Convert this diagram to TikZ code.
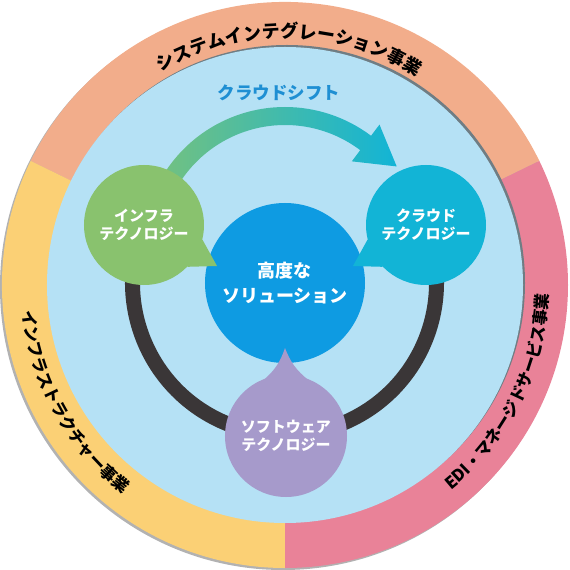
\documentclass[tikz,border=0pt]{standalone}
\usepackage{fontspec}
\newfontfamily\jpfont{Noto Sans CJK JP}
\usetikzlibrary{decorations.text}

\definecolor{seg_orange}{HTML}{F2AD8B}
\definecolor{seg_yellow}{HTML}{FBD075}
\definecolor{seg_pink}{HTML}{E98298}
\definecolor{inner_blue}{HTML}{B5E1F5}
\definecolor{core_blue}{HTML}{0E9BE2}
\definecolor{infra_green}{HTML}{89C26E}
\definecolor{cloud_cyan}{HTML}{12B4D6}
\definecolor{soft_purple}{HTML}{A69ACB}
\definecolor{ring_dark}{HTML}{3A3637}
\definecolor{label_blue}{HTML}{1E8FD3}
\definecolor{shift_green}{HTML}{72C181}
\definecolor{edge_gray}{HTML}{6F7D84}

\newcommand{\ringfont}{\jpfont\bfseries\fontsize{18}{18}\selectfont}
\newcommand{\sidefont}{\jpfont\bfseries\fontsize{16.5}{16.5}\selectfont}

\begin{document}
\begin{tikzpicture}[x=1pt, y=1pt,
        bubble/.style={circle, inner sep=0pt, minimum size=120pt, text=white, align=center, font=\jpfont\bfseries\fontsize{15}{18}\selectfont},
        core/.style={circle, inner sep=0pt, minimum size=160pt, fill=core_blue, text=white, align=center, font=\jpfont\bfseries\fontsize{18}{25}\selectfont},
        shift_label/.style={text=label_blue, font=\jpfont\bfseries\fontsize{17.5}{17.5}\selectfont},
        ring_link/.style={draw=ring_dark, line width=15pt},
        ring_label/.style={decorate, decoration={text along path, text align=center, text={#1}}}
    ]
    \useasboundingbox (-285,-285) rectangle (285,285);

    % Anello esterno
    \fill[gray!60] (-2,-2) circle[radius=283pt];
    \fill[seg_orange] (0,0) -- (26:283) arc[start angle=26, end angle=154, radius=283pt] -- cycle;
    \fill[seg_yellow] (0,0) -- (154:283) arc[start angle=154, end angle=270, radius=283pt] -- cycle;
    \fill[seg_pink] (0,0) -- (270:283) arc[start angle=270, end angle=386, radius=283pt] -- cycle;

    % Disco interno
    \fill[edge_gray] (2,2) circle[radius=238pt];
    \fill[inner_blue] (0,0) circle[radius=238pt];

    % Freccia
    \node[shift_label] (shift_title) at (-6,192) {クラウドシフト};
    \begin{scope}[shift={(0,35)}]
        \shade[left color=shift_green, right color=cloud_cyan]
            (150:143) arc[start angle=150, end angle=53, radius=143pt]
            -- (53:157) -- (36.8:139.5) -- (53:111)
            -- (53:125) arc[start angle=53, end angle=150, radius=125pt] -- cycle;
    \end{scope}

    % Nodi
    \node[core] (core) at (0,2) {高度な\\ソリューション};
    \node[bubble] (infra) at (-141,60) {};
    \node[bubble] (cloud) at (141,60) {};
    \node[bubble] (soft) at (1,-151) {};

    \draw[ring_link] (infra.center) arc[start angle=157.6, end angle=383, radius=152pt];

    \coordinate (infra_tip) at (-68,19);
    \coordinate (cloud_tip) at (68,19);
    \coordinate (soft_tip) at (0,-63);
    \fill[infra_green] (infra.center) circle[radius=60pt];
    \fill[infra_green] (infra.-14) -- (infra_tip) -- (infra.-44) -- cycle;
    \fill[cloud_cyan] (cloud.center) circle[radius=60pt];
    \fill[cloud_cyan] (cloud.194) -- (cloud_tip) -- (cloud.224) -- cycle;
    \fill[soft_purple] (soft.center) circle[radius=61pt];
    \fill[soft_purple] (soft.68) to[bend left=15] (soft_tip) to[bend left=15] (soft.112) -- cycle;

    \node[bubble] at (infra.center) {インフラ\\テクノロジー};
    \node[bubble] at (cloud.center) {クラウド\\テクノロジー};
    \node[bubble] at (soft.center) {ソフトウェア\\テクノロジー};

    % Etichette dell'anello
    \path[ring_label={|\ringfont|システムインテグレーション事業}] (150:247) arc[start angle=150, end angle=28, radius=247pt];
    \path[ring_label={|\sidefont|インフラストラクチャー事業}] (160:264) arc[start angle=160, end angle=258, radius=264pt];
    \path[ring_label={|\sidefont|EDI・マネージドサービス事業}] (285:264) arc[start angle=285, end angle=382, radius=264pt];
\end{tikzpicture}
\end{document}
